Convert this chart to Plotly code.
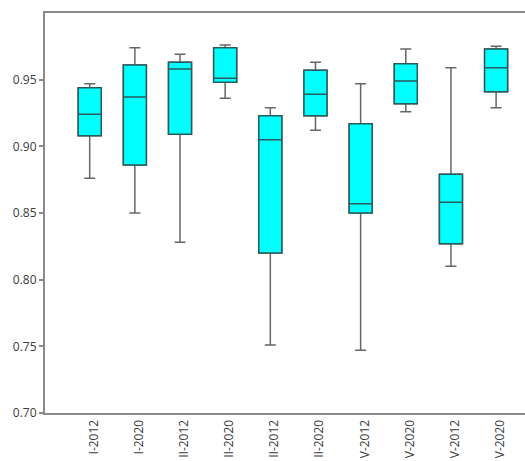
import plotly.graph_objects as go

# Groups (as they show on the axis) and box statistics
labels = ["I-2012", "I-2020", "II-2012", "II-2020", "II-2012",
          "II-2020", "V-2012", "V-2020", "V-2012", "V-2020"]
upper = [0.947, 0.974, 0.969, 0.976, 0.929, 0.963, 0.947, 0.973, 0.959, 0.975]
q3 = [0.944, 0.961, 0.963, 0.974, 0.923, 0.957, 0.917, 0.962, 0.879, 0.973]
median = [0.924, 0.937, 0.958, 0.951, 0.905, 0.939, 0.857, 0.949, 0.858, 0.959]
q1 = [0.908, 0.886, 0.909, 0.948, 0.820, 0.923, 0.850, 0.932, 0.827, 0.941]
lower = [0.876, 0.850, 0.828, 0.936, 0.751, 0.912, 0.747, 0.926, 0.810, 0.929]

y_ticks = [0.70, 0.75, 0.80, 0.85, 0.90, 0.95]

positions = list(range(len(labels)))

fig = go.Figure()

# whiskers (gray)
fig.add_trace(go.Box(
    x=positions,
    q1=q1,
    median=median,
    q3=q3,
    lowerfence=lower,
    upperfence=upper,
    width=0.51,
    whiskerwidth=0.48,
    fillcolor='#00ffff',
    line=dict(color='#666666', width=1.5),
    boxpoints=False,
    showlegend=False,
    hoverinfo='skip'
))

# boxes drawn again on top with the darker outline
fig.add_trace(go.Box(
    x=positions,
    q1=q1,
    median=median,
    q3=q3,
    lowerfence=q1,
    upperfence=q3,
    width=0.51,
    whiskerwidth=0,
    fillcolor='#00ffff',
    line=dict(color='#2a5a5a', width=1.5),
    boxpoints=False,
    showlegend=False,
    hoverinfo='skip'
))

fig.update_layout(
    width=525,
    height=461,
    margin=dict(l=45, r=0, t=13, b=48),
    boxmode='overlay',
    paper_bgcolor='white',
    plot_bgcolor='white',
    font=dict(family='Open Sans', size=12, color='#3a3a3a'),
    xaxis=dict(
        range=[-0.99, 9.64],
        tickmode='array',
        tickvals=positions,
        ticktext=labels,
        tickangle=-90,
        ticks='',
        ticklabelshift=4,
        showgrid=False,
        zeroline=False,
        showline=True,
        linecolor='#8a8a8a',
        linewidth=2,
        mirror=True,  # top border line
        automargin=False
    ),
    yaxis=dict(
        range=[0.70, 1.00],
        tickmode='array',
        tickvals=y_ticks,
        ticktext=[f'{v:.2f}' for v in y_ticks],
        ticks='outside',
        ticklen=4,
        tickcolor='#8a8a8a',
        tickwidth=1.5,
        showgrid=False,
        zeroline=False,
        showline=True,
        linecolor='#8a8a8a',
        linewidth=2,
        automargin=False
    )
)

fig.write_html("out.html", config={'displayModeBar': False},
               post_script="document.body.style.margin='0';")
